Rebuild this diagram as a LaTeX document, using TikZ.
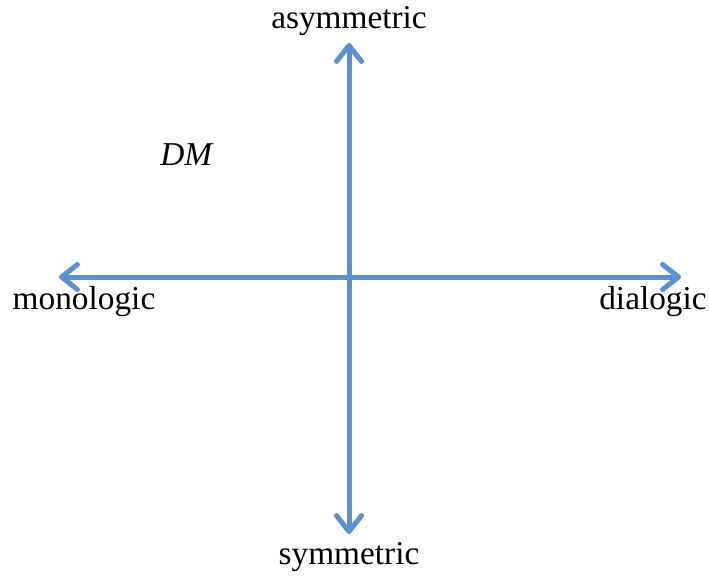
\documentclass[tikz,border=0pt]{standalone}
\usepackage{fontspec}
\setmainfont{Liberation Serif}
\usetikzlibrary{arrows.meta}
\definecolor{axisBlue}{RGB}{91,145,204}
\tikzstyle{aS}=[line width=3.75pt,draw=axisBlue,{Straight Barb[length=4.2mm,width=6.6mm,line cap=round,line join=round]}-{Straight Barb[length=4.2mm,width=6.6mm,line cap=round,line join=round]}]
\tikzstyle{lS}=[inner sep=0pt,font=\fontsize{25}{30}\selectfont]
\begin{document}
\begin{tikzpicture}[x=0.75pt,y=-0.75pt]
    \useasboundingbox (0,0) rectangle (709,578);
    \coordinate (top) at (349,43);
    \coordinate (bottom) at (349,534);
    \coordinate (left) at (59,277);
    \coordinate (right) at (681,277);
    \draw (349,21) node[lS] (asym) {asymmetric};
    \draw (349,557) node[lS] (sym) {symmetric};
    \draw (84,302) node[lS] (mono) {monologic};
    \draw (653,302) node[lS] (dia) {dialogic};
    \draw (187,155) node[lS] (dm) {\textit{DM}};

    \path
        (top) edge[aS] (bottom)
        (left) edge[aS] (right)
    ;
\end{tikzpicture}
\end{document}
